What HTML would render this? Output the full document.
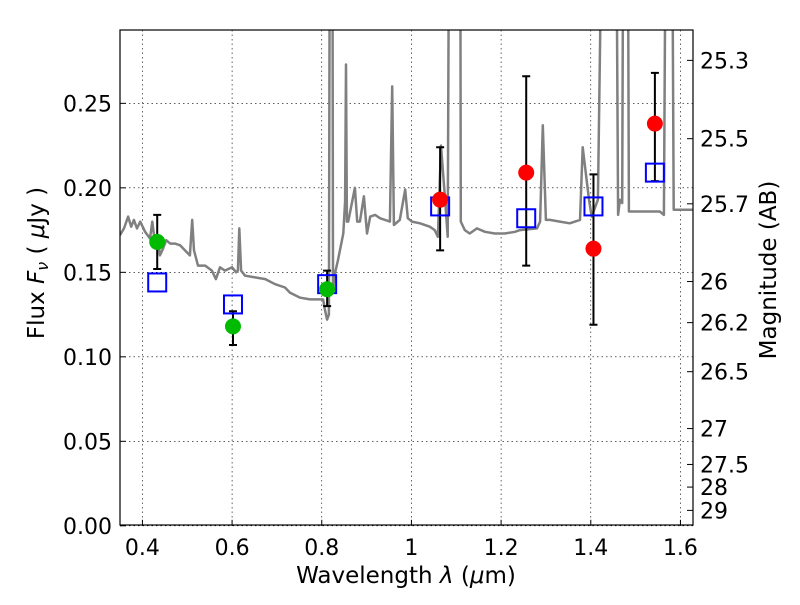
<!DOCTYPE html>
<html><head><meta charset="utf-8"><style>
body{margin:0;background:#fff;}
svg text{font-family:"DejaVu Sans","Liberation Sans",sans-serif;fill:#000;}
</style></head><body>
<svg id="chart" width="800" height="600" xmlns="http://www.w3.org/2000/svg">
<defs><clipPath id="clip"><rect x="120" y="30" width="573" height="495"/></clipPath></defs>
<g id="grid"></g>
<g id="spec" clip-path="url(#clip)"></g>
<g id="marks" clip-path="url(#clip)"></g>
<rect x="120" y="30" width="573" height="495" fill="none" stroke="#000" stroke-width="1.2"/>
<g id="axes"></g>
<text x="406" y="583" font-size="23" text-anchor="middle">Wavelength  <tspan font-style="italic">λ</tspan> (<tspan font-style="italic">μ</tspan>m)</text>
<text transform="translate(44,263) rotate(-90)" font-size="23" text-anchor="middle">Flux  <tspan font-style="italic">F</tspan><tspan font-style="italic" font-size="16" dy="4">ν</tspan><tspan dy="-4">  ( </tspan><tspan font-style="italic">μ</tspan>Jy )</text>
<text transform="translate(776,270) rotate(-90)" font-size="23" text-anchor="middle">Magnitude (AB)</text>
</svg>
<script>
const xTicks=[0.4,0.6,0.8,1.0,1.2,1.4,1.6];
const xTickLabels=["0.4","0.6","0.8","1","1.2","1.4","1.6"];
const yTicks=[0,0.05,0.10,0.15,0.20,0.25];
const yTickLabels=["0.00","0.05","0.10","0.15","0.20","0.25"];
const magTicks=[25.3,25.5,25.7,26,26.2,26.5,27,27.5,28,29];
const magTickLabels=["25.3","25.5","25.7","26","26.2","26.5","27","27.5","28","29"];
const specLam=[0.350,0.359,0.368,0.375,0.381,0.388,0.395,0.406,0.417,0.422,0.428,0.435,0.439,0.446,0.453,0.462,0.473,0.484,0.495,0.506,0.511,0.515,0.524,0.540,0.555,0.564,0.573,0.584,0.600,0.609,0.613,0.616,0.620,0.629,0.651,0.674,0.696,0.718,0.729,0.752,0.774,0.792,0.803,0.807,0.812,0.816,0.819,0.823,0.825,0.830,0.836,0.848,0.852,0.854,0.856,0.859,0.874,0.879,0.885,0.894,0.901,0.908,0.919,0.930,0.952,0.957,0.961,0.974,0.986,0.992,1.001,1.019,1.041,1.052,1.059,1.066,1.075,1.081,1.086,1.108,1.110,1.119,1.130,1.146,1.164,1.186,1.208,1.231,1.242,1.280,1.287,1.293,1.300,1.309,1.331,1.353,1.376,1.382,1.396,1.402,1.416,1.432,1.454,1.461,1.465,1.470,1.474,1.481,1.485,1.494,1.509,1.532,1.554,1.563,1.570,1.579,1.585,1.599,1.628];
const specFlux=[0.172,0.176,0.183,0.177,0.181,0.176,0.180,0.174,0.170,0.180,0.167,0.169,0.160,0.164,0.169,0.167,0.167,0.166,0.163,0.160,0.181,0.163,0.154,0.154,0.151,0.146,0.153,0.151,0.153,0.150,0.151,0.176,0.151,0.148,0.147,0.146,0.143,0.141,0.138,0.135,0.134,0.134,0.134,0.128,0.122,0.125,0.5,0.5,0.139,0.150,0.157,0.173,0.192,0.273,0.180,0.180,0.200,0.180,0.180,0.195,0.173,0.183,0.184,0.182,0.180,0.260,0.178,0.181,0.199,0.182,0.180,0.179,0.177,0.175,0.171,0.225,0.193,0.171,0.5,0.5,0.180,0.175,0.173,0.176,0.174,0.173,0.173,0.174,0.175,0.176,0.180,0.237,0.181,0.181,0.180,0.179,0.181,0.224,0.193,0.183,0.193,0.5,0.5,0.184,0.193,0.191,0.5,0.5,0.186,0.186,0.186,0.186,0.186,0.184,0.5,0.5,0.187,0.187,0.187];
const greenLam=[0.433,0.602,0.812];
const greenFlux=[0.168,0.118,0.140];
const greenLo=[0.152,0.107,0.130];
const greenHi=[0.184,0.127,0.151];
const redLam=[1.064,1.256,1.406,1.543];
const redFlux=[0.193,0.209,0.164,0.238];
const redLo=[0.163,0.154,0.119,0.204];
const redHi=[0.224,0.266,0.208,0.268];
const modelLam=[0.433,0.602,0.812,1.064,1.256,1.406,1.543];
const modelFlux=[0.144,0.131,0.143,0.189,0.182,0.189,0.209];

const X0=120,X1=693,Y0=525.8,Y1=30,LMIN=0.35,LMAX=1.628,FMIN=0,FMAX=0.2934;
const sx=l=>X0+(l-LMIN)/(LMAX-LMIN)*(X1-X0);
const sy=f=>Y0-(f-FMIN)/(FMAX-FMIN)*(Y0-Y1);
const magToFlux=m=>Math.pow(10,(23.9-m)/2.5);
const NS="http://www.w3.org/2000/svg";
function mk(tag,attrs,parent){const e=document.createElementNS(NS,tag);for(const k in attrs)e.setAttribute(k,attrs[k]);parent.appendChild(e);return e;}
const grid=document.getElementById('grid'),axes=document.getElementById('axes'),spec=document.getElementById('spec'),marks=document.getElementById('marks');
xTicks.forEach((t,i)=>{const x=sx(t);
 let g=mk('line',{x1:x,x2:x,y1:Y1,y2:Y0,stroke:'#000','stroke-width':0.6,'stroke-dasharray':'1.5,3'},grid);
 
 
 let tk=mk('line',{x1:x,x2:x,y1:Y0,y2:Y0-6,stroke:'#000'},axes);
 
 
 let tx=mk('text',{x:x,y:555,'font-size':22,'text-anchor':'middle'},axes);tx.textContent=xTickLabels[i];
 
 });
yTicks.forEach((t,i)=>{const y=sy(t);
 let g=mk('line',{x1:X0,x2:X1,y1:y,y2:y,stroke:'#000','stroke-width':0.6,'stroke-dasharray':'1.5,3'},grid);
 
 
 let tk=mk('line',{x1:X0,x2:X0+6,y1:y,y2:y,stroke:'#000'},axes);
 
 
 let tx=mk('text',{x:112,y:y+8,'font-size':22,'text-anchor':'end'},axes);tx.textContent=yTickLabels[i];
 
 });
magTicks.forEach((m,i)=>{const y=sy(magToFlux(m));
 let tk=mk('line',{x1:X1,x2:X1-6,y1:y,y2:y,stroke:'#000'},axes);
 
 
 let tx=mk('text',{x:700,y:y+8,'font-size':22},axes);tx.textContent=magTickLabels[i];
 
 });
let d=specLam.map((l,i)=>(i?'L':'M')+sx(l).toFixed(1)+','+sy(specFlux[i]).toFixed(1)).join('');
let sp=mk('path',{d:d,fill:'none',stroke:'#808080','stroke-width':2.5,'stroke-linejoin':'round'},spec);


function errbar(l,lo,hi){const x=sx(l);
 let e=mk('path',{d:`M${x},${sy(lo)}L${x},${sy(hi)}M${x-4},${sy(lo)}L${x+4},${sy(lo)}M${x-4},${sy(hi)}L${x+4},${sy(hi)}`,stroke:'#000','stroke-width':2,fill:'none'},marks);
 
 }
greenLam.forEach((l,i)=>{errbar(l,greenLo[i],greenHi[i]);});
redLam.forEach((l,i)=>{errbar(l,redLo[i],redHi[i]);});
modelLam.forEach((l,i)=>{
 let r=mk('rect',{x:sx(l)-9,y:sy(modelFlux[i])-9,width:18,height:18,fill:'none',stroke:'#0000ff','stroke-width':2},marks);
 
 });
greenLam.forEach((l,i)=>{
 let c=mk('circle',{cx:sx(l),cy:sy(greenFlux[i]),r:8,fill:'#00bb00'},marks);
 
 });
redLam.forEach((l,i)=>{
 let c=mk('circle',{cx:sx(l),cy:sy(redFlux[i]),r:8,fill:'#ff0000'},marks);
 
 });
</script>
</body></html>
